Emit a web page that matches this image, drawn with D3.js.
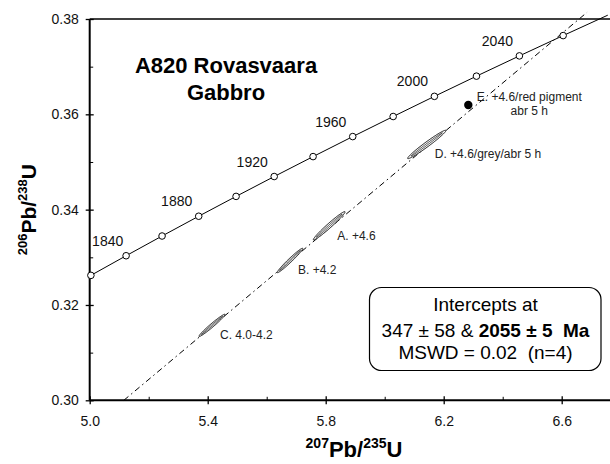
<!DOCTYPE html>
<html>
<head>
<meta charset="utf-8">
<script src="https://cdn.jsdelivr.net/npm/d3@7"></script>
<style>
  html, body { margin: 0; padding: 0; background: #fff; }
  svg { display: block; font-family: "Liberation Sans", Arial, sans-serif; }
</style>
</head>
<body>
<svg id="chart" width="610" height="464"></svg>
<script>
// Concordia reference points (age in Ma, 207Pb/235U, 206Pb/238U)
const concordiaAges = [1820, 1840, 1860, 1880, 1900, 1920, 1940, 1960, 1980, 2000, 2020, 2040, 2060, 2080];
const concordia207 = [5.0040, 5.1234, 5.2453, 5.3695, 5.4962, 5.6254, 5.7572, 5.8916, 6.0287, 6.1685, 6.3111, 6.4566, 6.6049, 6.7562];
const concordia206 = [0.32621, 0.33033, 0.33447, 0.33862, 0.34278, 0.34695, 0.35113, 0.35533, 0.35954, 0.36377, 0.36801, 0.37226, 0.37652, 0.38080];
const labelledAges = [1840, 1880, 1920, 1960, 2000, 2040];
const markedMaxAge = 2060;

// Zircon fractions: error ellipses
const spotNames = ["A. +4.6", "B. +4.2", "C. 4.0-4.2", "D. +4.6/grey/abr 5 h"];
const spot207 = [5.8119, 5.6790, 5.4146, 6.1427];
const spot206 = [0.33662, 0.32934, 0.31572, 0.35368];
const spotErr207 = [0.0537, 0.0431, 0.0440, 0.0649];
const spotErr206 = [0.00297, 0.00256, 0.00233, 0.00298];
const spotRho = [0.978, 0.978, 0.978, 0.978];

// Fraction E (plotted as a filled dot)
const dotName = ["E. +4.6/red pigment", "abr 5 h"];
const dot207 = [6.2834];
const dot206 = [0.36197];

// Discordia chord (intercepts at 347 and 2055 Ma), drawn between these ends
const chord207 = [5.1157, 6.6860];
const chord206 = [0.3000, 0.3814];

// Axes
const xMajor = [5.0, 5.4, 5.8, 6.2, 6.6];
const xMinor = [5.2, 5.6, 6.0, 6.4];
const yMajor = [0.30, 0.32, 0.34, 0.36, 0.38];
const yMinor = [0.31, 0.33, 0.35, 0.37];

const interceptLines = ["Intercepts at", "347 ± 58 & ", "2055 ± 5  Ma", "MSWD = 0.02  (n=4)"];
const sampleTitle = ["A820 Rovasvaara", "Gabbro"];

const svg = d3.select("#chart");
const plotL = 89.7, plotR = 620.7, plotT = 19, plotB = 400.3;

const x = d3.scaleLinear().domain([5.0, 6.8]).range([plotL, plotR]);
const y = d3.scaleLinear().domain([0.30, 0.38]).range([plotB, plotT]);

// ---- axes ----
const fmtX = d3.format(".1f"), fmtY = d3.format(".2f");
const xAxis = svg.append("g").attr("transform", `translate(0,${plotB})`)
  .call(d3.axisBottom(x).tickValues(xMajor).tickFormat(fmtX).tickSize(4).tickPadding(12));
xAxis.select(".domain").remove();
xAxis.selectAll(".tick line").attr("y1", -4).attr("y2", 4).attr("stroke-width", 1.3);
xAxis.selectAll("text").attr("font-size", 14).attr("fill", "#111")
  .attr("font-family", "Liberation Sans, Arial, sans-serif");

const xMin = svg.append("g").attr("transform", `translate(0,${plotB})`)
  .call(d3.axisBottom(x).tickValues(xMinor).tickSize(-3.5).tickFormat(""));
xMin.select(".domain").remove();
xMin.selectAll(".tick line").attr("stroke-width", 1);

const yAxis = svg.append("g").attr("transform", `translate(${plotL},0)`)
  .call(d3.axisLeft(y).tickValues(yMajor).tickFormat(fmtY).tickSize(4).tickPadding(7));
yAxis.select(".domain").remove();
yAxis.selectAll(".tick line").attr("x1", 4).attr("x2", -4).attr("stroke-width", 1.3);
yAxis.selectAll("text").attr("font-size", 14).attr("fill", "#111")
  .attr("font-family", "Liberation Sans, Arial, sans-serif");

const yMin = svg.append("g").attr("transform", `translate(${plotL},0)`)
  .call(d3.axisLeft(y).tickValues(yMinor).tickSize(-3.5).tickFormat(""));
yMin.select(".domain").remove();
yMin.selectAll(".tick line").attr("stroke-width", 1);

// frame lines (bottom, left, top)
svg.append("line").attr("x1", plotL).attr("x2", 610).attr("y1", plotB).attr("y2", plotB)
  .attr("stroke", "#000").attr("stroke-width", 2);
svg.append("line").attr("x1", plotL).attr("x2", plotL).attr("y1", plotT).attr("y2", plotB)
  .attr("stroke", "#000").attr("stroke-width", 2);
svg.append("line").attr("x1", plotL).attr("x2", 610).attr("y1", plotT).attr("y2", plotT)
  .attr("stroke", "#000").attr("stroke-width", 1.6);

// ---- axis titles ----
const xt = svg.append("text").attr("x", 354).attr("y", 457)
  .attr("text-anchor", "middle").attr("font-weight", "bold").attr("font-size", 22).attr("fill", "#000");
xt.append("tspan").text("207").attr("font-size", 14).attr("dy", -9);
xt.append("tspan").text("Pb/").attr("dy", 9);
xt.append("tspan").text("235").attr("font-size", 14).attr("dy", -9);
xt.append("tspan").text("U").attr("dy", 9);

const yt = svg.append("text").attr("transform", `translate(36,${(plotT + plotB) / 2}) rotate(-90)`)
  .attr("text-anchor", "middle").attr("font-weight", "bold").attr("font-size", 21).attr("fill", "#000");
yt.append("tspan").text("206").attr("font-size", 13).attr("dy", -9);
yt.append("tspan").text("Pb/").attr("dy", 9);
yt.append("tspan").text("238").attr("font-size", 13).attr("dy", -9);
yt.append("tspan").text("U").attr("dy", 9);

// ---- sample title ----
svg.append("text").attr("x", 226).attr("y", 73).attr("text-anchor", "middle")
  .attr("font-weight", "bold").attr("font-size", 22).text(sampleTitle[0]);
svg.append("text").attr("x", 226).attr("y", 100).attr("text-anchor", "middle")
  .attr("font-weight", "bold").attr("font-size", 22).text(sampleTitle[1]);

// ---- discordia chord ----
svg.append("line")
  .attr("x1", x(chord207[0])).attr("y1", y(chord206[0]))
  .attr("x2", x(chord207[1])).attr("y2", y(chord206[1]))
  .attr("stroke", "#000").attr("stroke-width", 1)
  .attr("stroke-dasharray", "6,3.5,1.5,3.5");

// ---- concordia ----
const conc = concordiaAges.map((a, i) => ({ age: a, r207: concordia207[i], r206: concordia206[i] }));
svg.append("path").datum(conc)
  .attr("d", d3.line().x(d => x(d.r207)).y(d => y(d.r206)))
  .attr("fill", "none").attr("stroke", "#000").attr("stroke-width", 1);

svg.selectAll("circle.age").data(conc.filter(d => d.age <= markedMaxAge)).join("circle")
  .attr("class", "age")
  .attr("cx", d => x(d.r207)).attr("cy", d => y(d.r206)).attr("r", 3.3)
  .attr("fill", "#fff").attr("stroke", "#000").attr("stroke-width", 1);

svg.selectAll("text.age").data(conc.filter(d => labelledAges.includes(d.age))).join("text")
  .attr("class", "age")
  .attr("x", d => Math.max(x(d.r207) - 22, plotL + 18))
  .attr("y", d => y(d.r206) - 10)
  .attr("text-anchor", "middle").attr("font-size", 14).attr("fill", "#111")
  .text(d => d.age);

// ---- error ellipses ----
function ellipsePath(cx, cy, ex, ey, rho, scale) {
  const pts = d3.range(0, 361, 3).map(deg => {
    const t = deg * Math.PI / 180;
    const dx = ex * scale * Math.cos(t);
    const dy = ey * scale * (rho * Math.cos(t) + Math.sqrt(1 - rho * rho) * Math.sin(t));
    return [x(cx + dx), y(cy + dy)];
  });
  return d3.line()(pts) + "Z";
}

const spots = spotNames.map((n, i) => ({
  name: n, r207: spot207[i], r206: spot206[i],
  e207: spotErr207[i], e206: spotErr206[i], rho: spotRho[i]
}));

const eg = svg.selectAll("g.spot").data(spots).join("g").attr("class", "spot");
eg.append("path")
  .attr("d", d => ellipsePath(d.r207, d.r206, d.e207, d.e206, d.rho, 1))
  .attr("fill", "#fff").attr("stroke", "#000").attr("stroke-width", 0.9);
eg.append("path")
  .attr("d", d => ellipsePath(d.r207, d.r206, d.e207, d.e206, 0.9965, 0.82))
  .attr("fill", "none").attr("stroke", "#000").attr("stroke-width", 0.7);
eg.append("text")
  .attr("x", d => x(d.r207) + 8).attr("y", d => y(d.r206) + 14)
  .attr("font-size", 12).attr("fill", "#222")
  .text(d => d.name);

// ---- fraction E ----
svg.append("circle").attr("cx", x(dot207[0])).attr("cy", y(dot206[0])).attr("r", 4.2).attr("fill", "#000");
svg.append("text").attr("x", x(dot207[0]) + 61).attr("y", y(dot206[0]) - 4)
  .attr("text-anchor", "middle").attr("font-size", 12).attr("fill", "#222").text(dotName[0]);
svg.append("text").attr("x", x(dot207[0]) + 61).attr("y", y(dot206[0]) + 10.5)
  .attr("text-anchor", "middle").attr("font-size", 12).attr("fill", "#222").text(dotName[1]);

// ---- intercept box ----
svg.append("rect").attr("x", 369.5).attr("y", 287.5).attr("width", 231.5).attr("height", 83)
  .attr("rx", 12).attr("ry", 12).attr("fill", "#fff").attr("stroke", "#000").attr("stroke-width", 1.2);
const bx = 485.5;
svg.append("text").attr("x", bx).attr("y", 311).attr("text-anchor", "middle")
  .attr("font-size", 19).text(interceptLines[0]);
const l2 = svg.append("text").attr("x", bx).attr("y", 336.5).attr("text-anchor", "middle")
  .attr("font-size", 19).attr("xml:space", "preserve");
l2.append("tspan").text(interceptLines[1]);
l2.append("tspan").attr("font-weight", "bold").text(interceptLines[2]);
svg.append("text").attr("x", bx).attr("y", 359).attr("text-anchor", "middle")
  .attr("font-size", 19).attr("xml:space", "preserve").text(interceptLines[3]);
</script>
</body>
</html>
